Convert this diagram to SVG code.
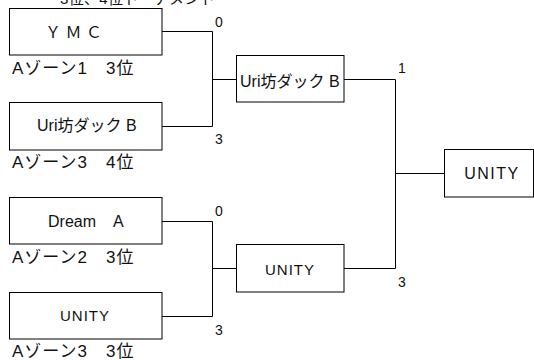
<svg xmlns="http://www.w3.org/2000/svg" width="534" height="360" viewBox="0 0 534 360">
<style>
text { font-family: "Liberation Sans", "Noto Sans CJK JP", sans-serif; fill: #111; }
.box { fill: #fff; stroke: #000; stroke-width: 1; }
.conn { fill: none; stroke: #000; stroke-width: 1; }
.t16 { font-size: 16px; }
.t15 { font-size: 15px; }
.lbl { font-size: 17px; letter-spacing: 1px; }
.num { font-size: 14px; }
</style>
<rect width="534" height="360" fill="#fff"/>
<text class="t15" x="60" y="3.5" letter-spacing="0.3">3位、4位トーナメント</text>
<g id="connectors">
  <polyline class="conn" points="162,31.5 212.5,31.5 212.5,126.5 162,126.5"/>
  <line class="conn" x1="212.5" y1="79.5" x2="237" y2="79.5"/>
  <polyline class="conn" points="162,221.5 212.5,221.5 212.5,316.5 162,316.5"/>
  <line class="conn" x1="212.5" y1="268.5" x2="237" y2="268.5"/>
  <polyline class="conn" points="344,79.5 395.5,79.5 395.5,268.5 344,268.5"/>
  <line class="conn" x1="395.5" y1="173.5" x2="444" y2="173.5"/>
  <text class="num" x="215" y="27">0</text>
  <text class="num" x="215" y="144">3</text>
  <text class="num" x="215" y="216">0</text>
  <text class="num" x="215" y="335">3</text>
  <text class="num" x="398" y="73">1</text>
  <text class="num" x="398" y="287">3</text>
</g>
<g id="node-ymc">
  <rect class="box" x="9.5" y="8.5" width="152.5" height="46.5"/>
  <text class="t16" x="45" y="38" letter-spacing="4.5">ＹＭＣ</text>
  <text class="lbl" x="12"  y="74">Aゾーン1 <tspan x="106">3位</tspan></text>
</g>
<g id="node-uri1">
  <rect class="box" x="9.5" y="102.5" width="152.5" height="47.5"/>
  <text class="t16" x="37" y="131">Uri坊ダック B</text>
  <text class="lbl" x="12" y="168">Aゾーン3 <tspan x="106">4位</tspan></text>
</g>
<g id="node-dream">
  <rect class="box" x="9.5" y="197.5" width="152.5" height="46.5"/>
  <text class="t16" x="48" y="226.5">Dream <tspan x="113">A</tspan></text>
  <text class="lbl" x="12" y="263">Aゾーン2 <tspan x="106">3位</tspan></text>
</g>
<g id="node-unity1">
  <rect class="box" x="9.5" y="292.5" width="152.5" height="46.5"/>
  <text class="t15" x="85" y="320.5" text-anchor="middle" letter-spacing="1">UNITY</text>
  <text class="lbl" x="12" y="357">Aゾーン3 <tspan x="106">3位</tspan></text>
</g>
<g id="node-uri2">
  <rect class="box" x="236.5" y="55.5" width="107.5" height="46.5"/>
  <text class="t16" x="240" y="87">Uri坊ダック B</text>
</g>
<g id="node-unity2">
  <rect class="box" x="236.5" y="244.5" width="107.5" height="47.5"/>
  <text class="t15" x="290" y="275" text-anchor="middle" letter-spacing="1">UNITY</text>
</g>
<g id="node-unity-final">
  <rect class="box" x="444.5" y="149.5" width="89" height="47.5"/>
  <text class="t16" x="492" y="179" text-anchor="middle" font-size="17" letter-spacing="1.5">UNITY</text>
</g>
</svg>
